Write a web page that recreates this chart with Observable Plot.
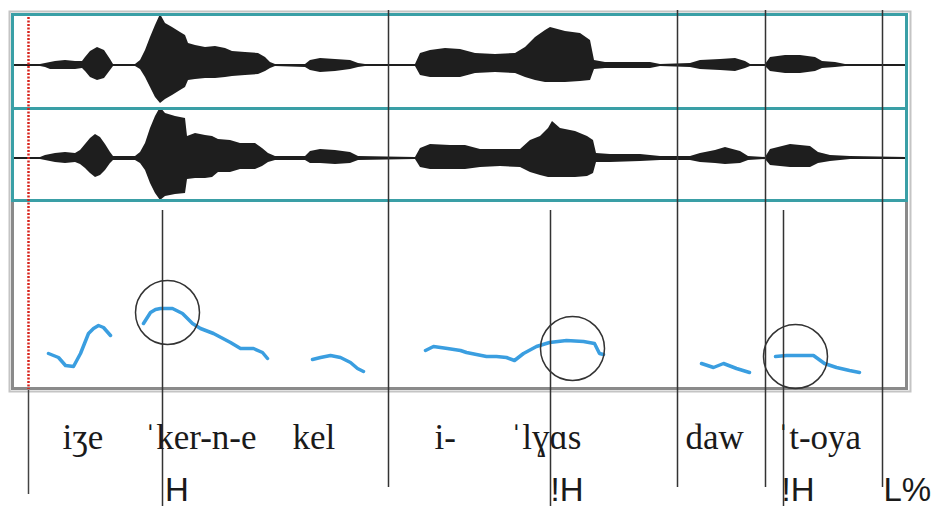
<!DOCTYPE html>
<html><head><meta charset="utf-8">
<script src="https://cdn.jsdelivr.net/npm/d3@7"></script>
<script src="https://cdn.jsdelivr.net/npm/@observablehq/plot@0.6"></script>
<style>
html,body{margin:0;padding:0;background:#fff;}
#fig{position:relative;width:936px;height:509px;overflow:hidden;background:#fff;}
#fig svg{position:absolute;left:0;top:0;}
</style></head><body><div id="fig"></div>
<script>
// ---------- data (time in ms, amplitude in arbitrary units, pitch in Hz) ----------
const wave1Time = [30,70,100,112.5,125,137.5,162.5,187.5,205,212.5,225,242.5,260,275,282.5,337.5,350,362.5,375,387.5,400,412.5,430,450,462.5,470,487.5,512.5,537.5,562.5,580,612.5,645,662.5,675,687.5,762.5,775,800,837.5,875,895,912.5,1037.5,1050,1075,1112.5,1150,1187.5,1237.5,1287.5,1312.5,1337.5,1362.5,1375,1412.5,1450,1475,1485,1512.5,1575,1625,1650,1725,1750,1800,1837.5,1862.5,1875,1912.5,1925,1962.5,2000,2037.5,2055,2087.5,2112.5,2265];
const wave1Up   = [1,1,1,2,3,4,5,4,4,8,14,18,15,6,1,1,5,15,28,40,51,42,38,33,30,22,20,18,19,17,14,13,12,8,3,1,1,5,7,6,5,2,1,1,12,15,17,16,12,11,12,18,28,35,38,34,32,25,5,3,3,3,1,2,5,6,7,4,1,1,8,10,10,8,4,3,1,1];
const wave1Down = [1,1,1,2,4,4,4,4,3,6,12,15,13,5,1,1,4,12,22,32,38,34,30,25,22,15,14,13,13,12,11,10,9,6,3,1,2,5,7,6,4,2,1,1,10,12,12,12,8,7,8,12,15,17,17,17,16,15,4,3,3,3,1,2,4,5,6,3,1,1,6,8,8,6,3,2,1,1];

const wave2Time = [30,70,100,112.5,137.5,162.5,187.5,200,212.5,225,237.5,250,262.5,275,282.5,337.5,350,362.5,375,387.5,400,412.5,437.5,462.5,467.5,487.5,512.5,530,545,575,600,637.5,655,670,687.5,762.5,775,800,837.5,875,895,1037.5,1050,1075,1125,1162.5,1200,1250,1300,1325,1350,1370,1380,1400,1437.5,1467.5,1482.5,1490,1525,1600,1650,1725,1750,1787.5,1812.5,1850,1870,1912.5,1925,1975,2025,2045,2075,2125,2265];
const wave2Up   = [1,1,1,3,5,6,5,8,14,20,24,21,14,6,2,2,6,15,30,42,51,45,42,40,22,25,23,22,19,18,15,15,10,5,2,2,7,9,8,6,2,1,10,14,13,13,9,9,9,18,22,30,37,30,27,22,18,5,4,4,2,2,5,8,11,7,2,1,9,14,12,6,3,2,1];
const wave2Down = [1,1,1,2,4,5,4,6,10,15,19,17,12,5,2,2,5,12,25,35,42,38,36,35,21,20,20,19,14,14,11,11,8,4,2,2,5,5,6,5,2,1,9,11,11,11,9,8,9,14,17,19,19,19,19,18,15,4,4,3,2,2,4,5,6,5,2,1,7,9,9,5,3,1,1];

// pitch track (null = unvoiced gap)
const pitchTime = [120,132.5,145,162.5,182.5,200,210,220,232.5,245,257.5,275,null,
  357.5,375,387.5,400,430,455,480,500,532.5,575,600,632.5,655,667.5,null,
  780,800,825,850,875,892.5,907.5,null,
  1062.5,1082.5,1117.5,1150,1165,1190,1215,1240,1265,1285,1307.5,1340,1372.5,1415,1457.5,1485,1497.5,1507.5,null,
  1752.5,1782.5,1807.5,1840,1872.5,null,
  1937.5,1965,2032.5,2060,2090,2122.5,2147.5];
const pitchHz = [105,103,101,93,92,105,115,125,130,133,131,123,null,
  135,146,149,150,150,145,135,130,125,116,110,110,106,100,null,
  99,101,103,101,96,90,87,null,
  108,112,110,108,106,104,102,102,101,98,105,112,116,118,117,115,105,104,null,
  95,91,95,90,86,null,
  102,103,103,95,91,88,86];

// circled pitch targets
const circleTime = [417.5, 1430, 1987.5];
const circleHz = [146, 110, 102];

// segmentation
const startTime = [70];
const boundaryTime = [970, 1692.5, 1912.5, 2205];
const toneLineTime = [405, 1375, 1957.5];

// tiers
const words = ["iʒe", "ˈker-n-e", "kel", "i-", "ˈlɣɑs", "daw", "ˈt-oya"];
const wordTime = [155, 360, 730, 1085, 1275, 1712.5, 1942.5];
const tones = ["H", "!H", "!H", "L%"];
const toneTime = [411, 1375, 1952.5, 2207.5];

// ---------- drawing ----------
const W = 936, H = 509;
const fig = document.getElementById("fig");
const TEAL = "#3a9fa6";
function layer(top, bottom, marks, opts = {}) {
  const p = Plot.plot({
    width: W, height: H,
    marginTop: top, marginBottom: H - bottom,
    marginLeft: opts.left ?? 12, marginRight: opts.right ?? 30,
    x: {domain: [30, 2265], axis: null},
    y: Object.assign({axis: null}, opts.y || {}),
    style: {background: "transparent", overflow: "visible"},
    marks
  });
  fig.append(p);
  return p;
}

// outer shadow frame
layer(11, 391, [Plot.frame({stroke: "#c4c4c4", strokeWidth: 2})], {left: 9, right: 26});

// pitch panel
layer(200, 388, [
  Plot.frame({stroke: "#8a8a8a", strokeWidth: 3}),
  Plot.line(pitchTime, {x: d => d, y: (d, i) => pitchHz[i], stroke: "#3a9ee0", strokeWidth: 3.5, strokeLinejoin: "round", strokeLinecap: "round"}),
  Plot.dot(circleTime, {x: d => d, y: (d, i) => circleHz[i], r: 32, stroke: "#333", strokeWidth: 1.5, fill: "none"})
], {y: {domain: [70, 258]}});

// waveform channel 1
layer(14, 108, [
  Plot.areaY(wave1Time, {x: d => d, y1: (d, i) => -wave1Down[i], y2: (d, i) => wave1Up[i], fill: "#1e1e1e"}),
  Plot.frame({stroke: TEAL, strokeWidth: 3})
], {y: {domain: [-43, 51]}});

// waveform channel 2
layer(108, 200, [
  Plot.areaY(wave2Time, {x: d => d, y1: (d, i) => -wave2Down[i], y2: (d, i) => wave2Up[i], fill: "#1e1e1e"}),
  Plot.frame({stroke: TEAL, strokeWidth: 3})
], {y: {domain: [-42, 50]}});

// start cursor (red dotted) and its continuation
layer(17, 389, [Plot.ruleX(startTime, {x: d => d, stroke: "#d8231c", strokeWidth: 2.5, strokeDasharray: "2,1.5"})]);
layer(390, 494, [Plot.ruleX(startTime, {x: d => d, stroke: "#444", strokeWidth: 1.5})]);

// word boundaries
layer(10, 487, [Plot.ruleX(boundaryTime, {x: d => d, stroke: "#333", strokeWidth: 1.5})]);

// tone lines
layer(210, 506, [Plot.ruleX(toneLineTime, {x: d => d, stroke: "#333", strokeWidth: 1.5})]);

// tier labels
layer(400, 509, [
  Plot.text(words, {x: (d, i) => wordTime[i], y: () => "word", text: d => d, textAnchor: "start", lineAnchor: "bottom",
    fontSize: 35, fontFamily: "Liberation Serif, DejaVu Serif, serif", fill: "#1a1a1a"}),
  Plot.text(tones, {x: (d, i) => toneTime[i], y: () => "tone", text: d => d, textAnchor: "start", lineAnchor: "bottom",
    fontSize: 33, fontFamily: "Liberation Sans, Arial, sans-serif", fill: "#1a1a1a"})
], {y: {type: "point", domain: ["word", "tone"], range: [448, 500], padding: 0}});
</script></body></html>
